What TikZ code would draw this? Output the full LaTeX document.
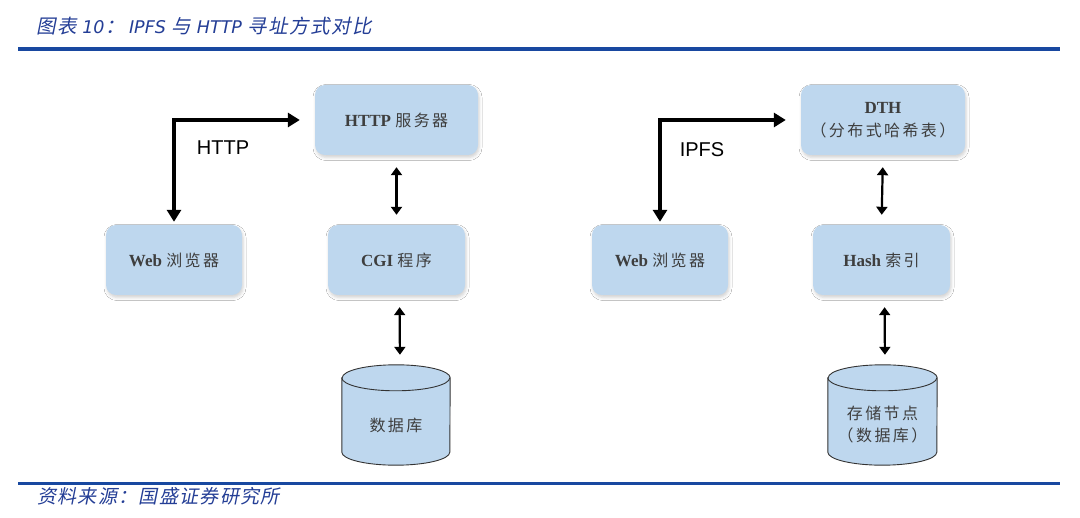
\documentclass[tikz,border=0pt]{standalone}
\usepackage{fontspec}
\setmainfont{Liberation Serif}
\newfontfamily\cjk[LetterSpace=15]{Noto Sans CJK SC}
\newfontfamily\cjktitle[FakeSlant=0.2,LetterSpace=7]{Noto Sans CJK SC}
\newfontfamily\lattitle{DejaVu Sans}
\newfontfamily\labsans{Liberation Sans}
\usetikzlibrary{arrows.meta,shadows.blur}
\definecolor{boxblue}{RGB}{190,215,238}
\definecolor{hdrblue}{RGB}{24,72,160}
\definecolor{ttlblue}{RGB}{36,62,150}
\definecolor{txtgray}{RGB}{62,62,62}
\newcommand{\lt}[1]{{\lattitle\itshape\fontsize{17.5}{20}\selectfont #1}}
\tikzset{
  box/.style={rounded corners=10pt, fill=boxblue, draw=none, text=txtgray,
    font=\fontsize{17}{21}\selectfont, align=center, inner sep=0pt,
    blur shadow={shadow xshift=1pt, shadow yshift=-2.5pt, shadow blur radius=3pt, shadow opacity=18}},
  dbspot/.style={inner sep=0pt, minimum width=108pt, minimum height=100pt},
  cylline/.style={draw=black!80, line width=0.9pt},
  bigarrow/.style={line width=3.5pt, {Triangle[length=12pt,width=14pt]}-{Triangle[length=12pt,width=14pt]}},
  smallarrow/.style={line width=2.2pt, {Triangle[length=8pt,width=11pt]}-{Triangle[length=8pt,width=11pt]}},
  lab/.style={font=\labsans\fontsize{20}{24}\selectfont, text=black},
  dbtext/.style={text=txtgray, font=\fontsize{16}{22}\selectfont, align=center}
}
\begin{document}
\begin{tikzpicture}[x=1pt,y=-1pt]
\useasboundingbox (0,0) rectangle (1080,518);
\fill[white] (0,0) rectangle (1080,518);
% header
\node[anchor=west, text=ttlblue, inner sep=0pt] (title) at (36,26)
  {\cjktitle\fontsize{19.5}{22}\selectfont 图表\ \lt{10}\kern1pt：\kern4pt\lt{IPFS}\ 与\ \lt{HTTP}\ 寻址方式对比};
\fill[hdrblue] (18,47.5) rectangle (1060,51);
\fill[hdrblue] (18,482.5) rectangle (1060,485.5);
\node[anchor=west, text=ttlblue, inner sep=0pt] (src) at (37,496)
  {\cjktitle\fontsize{19}{22}\selectfont 资料来源：国盛证券研究所};

% left diagram
\node[box, minimum width=163pt, minimum height=70pt] (hsrv) at (396.5,120) {\textbf{HTTP} {\cjk\fontsize{16}{20}\selectfont 服务器}};
\node[box, minimum width=136pt, minimum height=70pt] (webL) at (174,260) {\textbf{Web} {\cjk\fontsize{16}{20}\selectfont 浏览器}};
\node[box, minimum width=137pt, minimum height=70pt] (cgi) at (396.5,260) {\textbf{CGI} {\cjk\fontsize{16}{20}\selectfont 程序}};
\node[dbspot] (dbL) at (396,415) {};
\filldraw[fill=boxblue, cylline] ([yshift=-13pt]dbL.north west) -- ([yshift=13pt]dbL.south west)
  arc[start angle=180, end angle=360, x radius=54pt, y radius=13pt]
  -- ([yshift=-13pt]dbL.north east)
  arc[start angle=0, end angle=180, x radius=54pt, y radius=13pt] -- cycle;
\draw[cylline] ([yshift=-13pt]dbL.north west) arc[start angle=180, end angle=360, x radius=54pt, y radius=13pt];
\node[dbtext] (dbLt) at (396,425) {\cjk 数据库};

\draw[bigarrow, shorten <=3pt, shorten >=15pt] (webL.north) |- (hsrv.west);
\node[lab] (httplab) at (223,148) {HTTP};
\draw[smallarrow, shorten <=12pt, shorten >=10pt] (hsrv.south) -- (cgi.north);
\draw[smallarrow, shorten <=12pt, shorten >=10pt] ([xshift=3pt]cgi.south) -- ([xshift=4pt]dbL.north);

% right diagram
\node[box, minimum width=164pt, minimum height=70pt] (dth) at (883,120) {\textbf{DTH}\\[2pt]{\cjk\fontsize{16}{20}\selectfont （分布式哈希表）}};
\node[box, minimum width=136pt, minimum height=70pt] (webR) at (660,260) {\textbf{Web} {\cjk\fontsize{16}{20}\selectfont 浏览器}};
\node[box, minimum width=137pt, minimum height=70pt] (hash) at (881.5,260) {\textbf{Hash} {\cjk\fontsize{16}{20}\selectfont 索引}};
\node[dbspot, minimum width=109pt] (dbR) at (882.5,415) {};
\filldraw[fill=boxblue, cylline] ([yshift=-13pt]dbR.north west) -- ([yshift=13pt]dbR.south west)
  arc[start angle=180, end angle=360, x radius=54.5pt, y radius=13pt]
  -- ([yshift=-13pt]dbR.north east)
  arc[start angle=0, end angle=180, x radius=54.5pt, y radius=13pt] -- cycle;
\draw[cylline] ([yshift=-13pt]dbR.north west) arc[start angle=180, end angle=360, x radius=54.5pt, y radius=13pt];
\node[dbtext] (dbRt) at (882.5,425) {\cjk 存储节点\\\cjk （数据库）};

\draw[bigarrow, shorten <=3pt, shorten >=15pt] (webR.north) |- (dth.west);
\node[lab] (ipfslab) at (702,150) {IPFS};
\draw[smallarrow, shorten <=12pt, shorten >=10pt] (dth.south) -- (hash.north);
\draw[smallarrow, shorten <=12pt, shorten >=10pt] ([xshift=3pt]hash.south) -- ([xshift=2.5pt]dbR.north);
\end{tikzpicture}
\end{document}
